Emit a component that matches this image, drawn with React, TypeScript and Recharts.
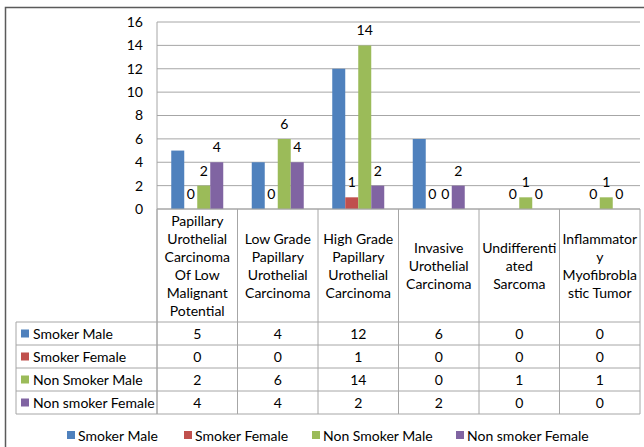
import { BarChart, Bar, XAxis, YAxis, CartesianGrid, LabelList } from "recharts";

// tumour types, line breaks as they wrap in the table header
const categories = [
	"Papillary\nUrothelial\nCarcinoma\nOf Low\nMalignant\nPotential",
	"Low Grade\nPapillary\nUrothelial\nCarcinoma",
	"High Grade\nPapillary\nUrothelial\nCarcinoma",
	"Invasive\nUrothelial\nCarcinoma",
	"Undifferenti\nated\nSarcoma",
	"Inflammator\ny\nMyofibrobla\nstic Tumor",
];

const smokerMale = [5, 4, 12, 6, 0, 0];
const smokerFemale = [0, 0, 1, 0, 0, 0];
const nonSmokerMale = [2, 6, 14, 0, 1, 1];
const nonSmokerFemale = [4, 4, 2, 2, 0, 0];

const yTicks = [0, 2, 4, 6, 8, 10, 12, 14, 16];

const series = [
	{ key: "smokerMale", name: "Smoker Male", values: smokerMale, color: "#4F81BD", labels: false },
	{ key: "smokerFemale", name: "Smoker Female", values: smokerFemale, color: "#C0504D", labels: true },
	{ key: "nonSmokerMale", name: "Non Smoker Male", values: nonSmokerMale, color: "#9BBB59", labels: true },
	{ key: "nonSmokerFemale", name: "Non smoker Female", values: nonSmokerFemale, color: "#8064A2", labels: true },
];

const data = categories.map((name, i) => {
	const row: Record<string, string | number> = { name };
	series.forEach((s) => (row[s.key] = s.values[i]));
	return row;
});

const FONT = "Lato, 'Open Sans', sans-serif";
const GRID = "#a6a6a6";
const W = 644;
const H = 447;
const PLOT_LEFT = 157;
const PLOT_RIGHT = 640;
const PLOT_TOP = 22;
const PLOT_BOTTOM = 209;
const TABLE_LEFT = 16;
const ROW_TOP = 322;
const ROW_H = 23;
const BAND = (PLOT_RIGHT - PLOT_LEFT) / categories.length;
const legendX = [67, 184, 312, 456];

function CategoryTick(props: any) {
	const { x, payload } = props;
	const i = payload.index;
	const lines = categories[i].split("\n");
	const headMid = (PLOT_BOTTOM + ROW_TOP) / 2;
	const first = headMid - ((lines.length - 1) * 18) / 2;
	const bottom = ROW_TOP + ROW_H * series.length;
	return (
		<g fontFamily={FONT} fontSize={14} fill="#000">
			<line x1={x - BAND / 2} x2={x - BAND / 2} y1={PLOT_BOTTOM} y2={bottom} stroke={GRID} />
			{i === categories.length - 1 && (
				<line x1={x + BAND / 2} x2={x + BAND / 2} y1={PLOT_BOTTOM} y2={bottom} stroke={GRID} />
			)}
			{lines.map((l, k) => (
				<text key={k} x={x} y={first + k * 18} textAnchor="middle" dominantBaseline="central">
					{l}
				</text>
			))}
			{series.map((s, r) => (
				<text
					key={s.key}
					x={x}
					y={ROW_TOP + ROW_H * r + ROW_H / 2}
					textAnchor="middle"
					dominantBaseline="central"
				>
					{s.values[i]}
				</text>
			))}
		</g>
	);
}

export default function App() {
	const tableBottom = ROW_TOP + ROW_H * series.length;
	return (
		<div style={{ position: "absolute", left: 0, top: 0, background: "#fff", fontFamily: FONT }}>
			<BarChart
				width={W}
				height={H}
				data={data}
				margin={{ top: PLOT_TOP, right: W - PLOT_RIGHT, bottom: 33, left: PLOT_LEFT - 40 }}
				barCategoryGap="17.7%"
				barGap={0}
			>
				<rect x={5.5} y={7.5} width={W} height={H} fill="none" stroke="#5a5a5a" strokeWidth={1.5} />
				<CartesianGrid vertical={false} stroke={GRID} />
				<XAxis
					dataKey="name"
					height={205}
					interval={0}
					tickLine={false}
					axisLine={{ stroke: GRID }}
					tick={<CategoryTick />}
				/>
				<YAxis
					width={40}
					domain={[0, 16]}
					ticks={yTicks}
					tickLine={false}
					tickSize={6}
					tickMargin={8}
					axisLine={{ stroke: GRID }}
					tick={{ fill: "#000", fontSize: 14, fontFamily: FONT }}
				/>
				{series.map((s) => (
					// tiny minPointSize keeps zero bars in the list so their "0" label is drawn
					<Bar
						key={s.key}
						dataKey={s.key}
						name={s.name}
						fill={s.color}
						minPointSize={0.001}
						isAnimationActive={false}
					>
						{s.labels && (
							<LabelList
								dataKey={s.key}
								position="top"
								offset={10}
								fill="#000"
								fontSize={14}
								fontFamily={FONT}
							/>
						)}
					</Bar>
				))}
				{/* row headers of the data table */}
				<g fontFamily={FONT} fontSize={14} fill="#000">
					{series.map((s, r) => {
						const mid = ROW_TOP + ROW_H * r + ROW_H / 2;
						return (
							<g key={s.key}>
								<rect x={21} y={mid - 4} width={8} height={8} fill={s.color} />
								<text x={33} y={mid} dominantBaseline="central">
									{s.name}
								</text>
							</g>
						);
					})}
					{[0, 1, 2, 3, 4].map((r) => (
						<line
							key={r}
							x1={TABLE_LEFT}
							x2={PLOT_RIGHT}
							y1={ROW_TOP + ROW_H * r}
							y2={ROW_TOP + ROW_H * r}
							stroke={GRID}
						/>
					))}
					<line x1={TABLE_LEFT} x2={TABLE_LEFT} y1={ROW_TOP} y2={tableBottom} stroke={GRID} />
					<line x1={PLOT_LEFT} x2={PLOT_LEFT} y1={PLOT_BOTTOM} y2={tableBottom} stroke={GRID} />
				</g>
				{/* legend */}
				<g fontFamily={FONT} fontSize={14} fill="#000">
					{series.map((s, k) => (
						<g key={s.key}>
							<rect x={legendX[k]} y={431} width={8} height={8} fill={s.color} />
							<text x={legendX[k] + 11} y={435} dominantBaseline="central">
								{s.name}
							</text>
						</g>
					))}
				</g>
			</BarChart>
		</div>
	);
}
